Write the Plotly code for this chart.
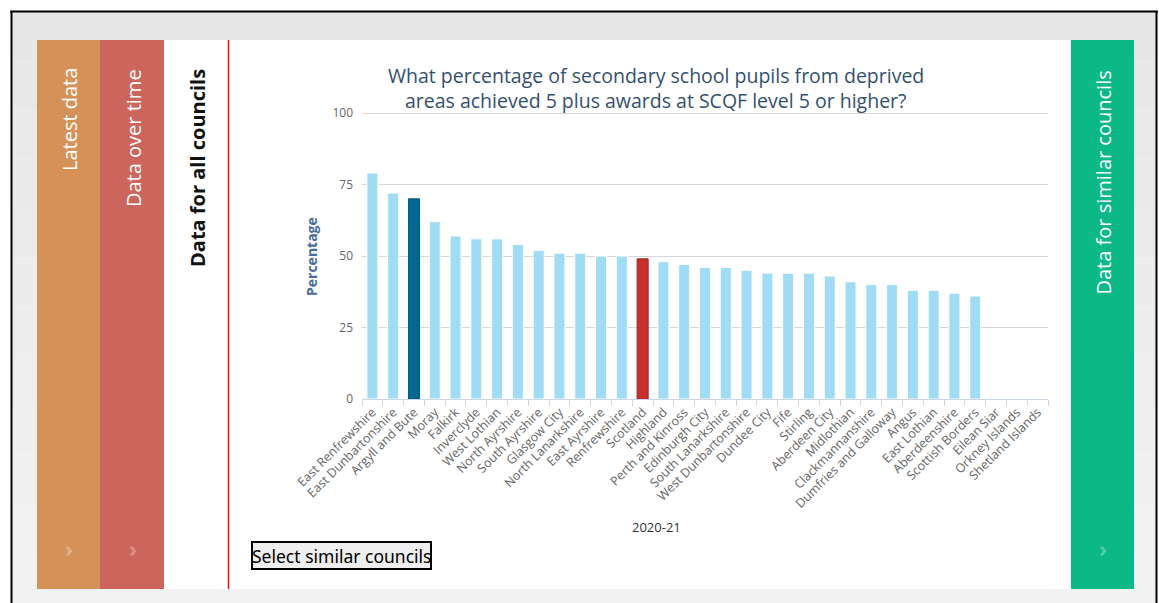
import plotly.graph_objects as go

# ---------------- data ----------------
councils = [
    "East Renfrewshire", "East Dunbartonshire", "Argyll and Bute", "Moray", "Falkirk",
    "Inverclyde", "West Lothian", "North Ayrshire", "South Ayrshire", "Glasgow City",
    "North Lanarkshire", "East Ayrshire", "Renfrewshire", "Scotland", "Highland",
    "Perth and Kinross", "Edinburgh City", "South Lanarkshire", "West Dunbartonshire",
    "Dundee City", "Fife", "Stirling", "Aberdeen City", "Midlothian", "Clackmannanshire",
    "Dumfries and Galloway", "Angus", "East Lothian", "Aberdeenshire", "Scottish Borders",
    "Eilean Siar", "Orkney Islands", "Shetland Islands",
]
percentages = [
    79, 72, 70, 62, 57,
    56, 56, 54, 52, 51,
    51, 50, 50, 49, 48,
    47, 46, 46, 45,
    44, 44, 44, 43, 41, 40,
    40, 38, 38, 37, 36,
    None, None, None,
]
highlight_council = "Argyll and Bute"
national = "Scotland"
y_ticks = [0, 25, 50, 75, 100]
period_label = "2020-21"
title_lines = [
    "What percentage of secondary school pupils from deprived",
    "areas achieved 5 plus awards at SCQF level 5 or higher?",
]
tabs_left = ["Latest data", "Data over time"]
tab_active = "Data for all councils"
tab_right = "Data for similar councils"
button_text = "Select similar councils"

# ---------------- styling ----------------
W, H = 1159, 603
FONT = "Open Sans"
LIGHT = "#a0dcf4"
DARK = "#006891"
RED = "#c8302e"
Y_TOP = 100.5


def px(x):
    return x / W


def py(y):
    return 1 - y / H


colors, lines = [], []
for c in councils:
    if c == highlight_council:
        colors.append(DARK); lines.append("#005a7e")
    elif c == national:
        colors.append(RED); lines.append("#a02222")
    else:
        colors.append(LIGHT); lines.append("#ffffff")

fig = go.Figure(
    go.Bar(
        x=councils,
        y=percentages,
        marker=dict(color=colors, line=dict(color=lines, width=1)),
        showlegend=False,
        hoverinfo="x+y",
    )
)

shapes = []
bands = ["#e7e7e7", "#e8e8e8", "#e9e9e9", "#eaeaea", "#ebebeb", "#ececec", "#ededed",
         "#eeeeee", "#efefef", "#f0f0f0", "#f1f1f1", "#f2f2f2"]
bh = (603 - 12) / len(bands)
for i, col in enumerate(bands):
    shapes.append(dict(type="rect", xref="paper", yref="paper", x0=px(12), x1=px(1156),
                       y0=py(12 + (i + 1) * bh), y1=py(12 + i * bh),
                       fillcolor=col, line=dict(width=0), layer="below"))
# white panel
shapes.append(dict(type="rect", xref="paper", yref="paper", x0=px(37), x1=px(1134), y0=py(589), y1=py(40),
                   fillcolor="#ffffff", line=dict(width=0), layer="below"))
# coloured tabs
for x0, x1, col in [(37, 100, "#d59258"), (100, 164, "#cc665c"), (1071, 1134, "#0db887")]:
    shapes.append(dict(type="rect", xref="paper", yref="paper", x0=px(x0), x1=px(x1), y0=py(589), y1=py(40),
                       fillcolor=col, line=dict(width=0), layer="below"))
# red separator
shapes.append(dict(type="line", xref="paper", yref="paper", x0=px(228.5), x1=px(228.5), y0=py(589), y1=py(40),
                   line=dict(color="#ee1111", width=1.5)))
# frame lines
for (x0, y0, x1, y1) in [(10, 11.5, 1158, 11.5), (11.5, 11, 11.5, 603), (1156.5, 11, 1156.5, 603)]:
    shapes.append(dict(type="line", xref="paper", yref="paper", x0=px(x0), x1=px(x1), y0=py(y0), y1=py(y1),
                       line=dict(color="#000000", width=2)))
# button
shapes.append(dict(type="rect", xref="paper", yref="paper", x0=px(252), x1=px(431), y0=py(569), y1=py(542),
                   fillcolor="#efefef", line=dict(color="#000000", width=2)))

annotations = []


def ann(text, x, y, size, color, angle=0, bold=False, family=FONT, xanchor="center", yanchor="middle"):
    annotations.append(dict(
        text=f"<b>{text}</b>" if bold else text, x=px(x), y=py(y), xref="paper", yref="paper",
        showarrow=False, textangle=angle, xanchor=xanchor, yanchor=yanchor,
        font=dict(family=family, size=size, color=color)))


ann(tabs_left[0], 70, 120, 20, "#ffffff", angle=-90)
ann(tabs_left[1], 133, 138, 20, "#ffffff", angle=-90)
ann(tab_active, 197, 168, 20, "#111111", angle=-90, bold=True)
ann(tab_right, 1103, 182.5, 20, "#ffffff", angle=-90)
for cx in (69, 133, 1103):
    ann("<b>›</b>", cx, 548, 22, "rgba(255,255,255,0.3)")
ann(title_lines[0], 656, 76, 19.5, "#33506e")
ann(title_lines[1], 656, 100, 19.5, "#33506e")
ann("Percentage", 312, 257, 14, "#4a6d9c", angle=-90, bold=True)
ann(period_label, 656, 527, 13, "#333333")
ann(button_text, 341.5, 555.5, 17.5, "#000000", family="Noto Sans")

fig.update_layout(
    width=W, height=H,
    margin=dict(l=0, r=0, t=0, b=0, autoexpand=False),
    paper_bgcolor="#ffffff",
    plot_bgcolor="rgba(0,0,0,0)",
    font=dict(family=FONT, color="#666666"),
    bargap=0.47,
    shapes=shapes,
    annotations=annotations,
    xaxis=dict(
        domain=[px(362), px(1048)],
        type="category",
        tickangle=-45,
        tickfont=dict(size=12.5, color="#666666"),
        showgrid=False,
        showline=True, linecolor="#ccd6eb", linewidth=1,
        ticks="outside", ticklen=6, tickcolor="#ccd6eb", tickson="boundaries",
        automargin=False,
        anchor="y",
    ),
    yaxis=dict(
        domain=[py(399), py(113 - 0.5 * 2.86)],
        range=[0, Y_TOP],
        tickvals=y_ticks,
        tickfont=dict(size=12, color="#666666"),
        showgrid=True, gridcolor="#d6d6d6", gridwidth=1,
        zeroline=False,
        showline=False,
        ticklabelstandoff=8,
        automargin=False,
    ),
)

fig.write_html("out.html", config={"displayModeBar": False},
               post_script="document.body.style.margin='0px';")
